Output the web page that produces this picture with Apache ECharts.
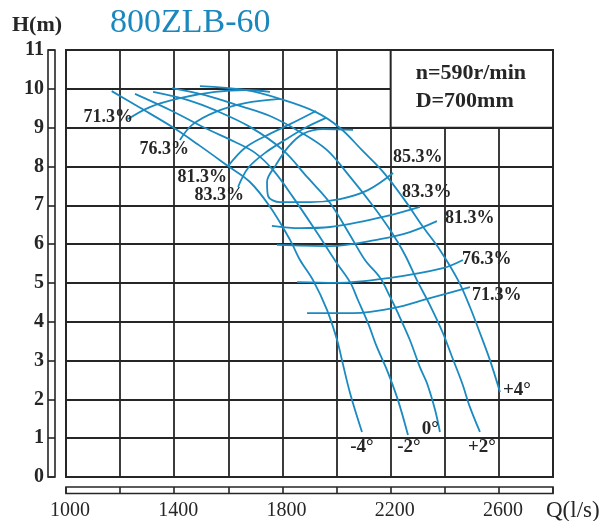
<!DOCTYPE html>
<html>
<head>
<meta charset="utf-8">
<script src="https://cdn.jsdelivr.net/npm/echarts@6/dist/echarts.min.js"></script>
<style>
  html, body { margin: 0; padding: 0; background: #fff; }
  #chart { width: 600px; height: 521px; }
</style>
</head>
<body>
<div id="chart"></div>
<script>
// Axis ticks
const qLabels = [1000, 1400, 1800, 2200, 2600];   // labelled flow ticks (l/s)
const hTicks = [0, 1, 2, 3, 4, 5, 6, 7, 8, 9, 10, 11];

// Blade-angle H-Q curves, points as [Q (l/s), H (m)]
const angleM4 = [[1169, 9.94], [1274, 9.51], [1392, 9.02], [1495, 8.53], [1599, 8.01], [1680, 7.60],
  [1754, 6.96], [1828, 6.11], [1865, 5.59], [1913, 5.07], [1965, 4.30], [2002, 3.53], [2020, 3.01],
  [2050, 2.16], [2094, 1.16]];
const angleM2 = [[1255, 9.87], [1392, 9.43], [1514, 8.99], [1625, 8.63], [1699, 8.35], [1765, 7.91],
  [1839, 7.21], [1928, 6.29], [1998, 5.54], [2050, 5.02], [2079, 4.56], [2116, 3.97], [2149, 3.35],
  [2186, 2.76], [2227, 1.98], [2264, 1.08]];
const angle0 = [[1322, 9.92], [1451, 9.71], [1551, 9.45], [1680, 9.02], [1802, 8.42], [1891, 7.73],
  [1976, 7.06], [2050, 6.23], [2105, 5.59], [2161, 5.13], [2198, 4.64], [2227, 4.22], [2271, 3.53],
  [2308, 2.83], [2334, 2.42], [2364, 1.73], [2382, 1.16]];
const angleP2 = [[1392, 10.02], [1514, 9.84], [1643, 9.56], [1754, 9.30], [1865, 8.89], [1965, 8.42],
  [2050, 7.73], [2135, 6.98], [2198, 6.36], [2253, 5.72], [2297, 5.07], [2345, 4.43], [2393, 3.71],
  [2427, 3.09], [2464, 2.42], [2493, 1.80], [2530, 1.16]];
const angleP4 = [[1495, 10.07], [1662, 9.97], [1791, 9.74], [1924, 9.40], [2013, 8.99], [2094, 8.42],
  [2172, 7.86], [2246, 7.19], [2320, 6.44], [2382, 5.85], [2449, 5.07], [2493, 4.38], [2530, 3.71],
  [2567, 3.01], [2604, 2.19]];

// Efficiency contours: upper (small-flow) and lower (large-flow) branches
const eff713Upper = [[1229, 9.22], [1310, 9.53], [1421, 9.76], [1551, 9.92], [1662, 9.97], [1754, 9.92]];
const eff763Upper = [[1421, 8.68], [1466, 9.07], [1551, 9.40], [1662, 9.63], [1791, 9.74]];
const eff813Upper = [[1599, 8.01], [1662, 8.48], [1736, 8.78], [1828, 9.09], [1924, 9.43]];
const eff833Upper = [[1636, 7.47], [1673, 7.96], [1736, 8.35], [1809, 8.68], [1883, 8.99], [1961, 9.25]];
const eff853Loop = [[2061, 8.94], [1950, 8.96], [1876, 8.84], [1821, 8.50], [1776, 8.04], [1743, 7.60],
  [1747, 7.24], [1791, 7.08], [1902, 7.08], [2013, 7.16], [2116, 7.39], [2209, 7.83]];
const eff833Lower = [[1761, 6.47], [1865, 6.41], [1976, 6.44], [2172, 6.70], [2308, 6.96]];
const eff813Lower = [[1780, 5.98], [1976, 5.95], [2161, 6.13], [2271, 6.31], [2371, 6.59]];
const eff763Lower = [[1854, 5.02], [2002, 5.00], [2198, 5.13], [2393, 5.38], [2467, 5.59]];
const eff713Lower = [[1891, 4.22], [2061, 4.22], [2209, 4.35], [2345, 4.61], [2493, 4.89]];

const BLUE = '#1b8ac0';
const INK = '#262626';
const SERIF = '"Liberation Serif", "Times New Roman", serif';

function curve(pts, labelAt, text, labelOpts) {
  const idx = labelAt < 0 ? pts.length + labelAt : labelAt;
  const data = pts.map((p, i) => i === idx
    ? { value: p, label: Object.assign({ show: true, formatter: text }, labelOpts) }
    : p);
  return {
    type: 'line', xAxisIndex: 0, yAxisIndex: 0, data,
    smooth: 0.35, symbol: 'circle', symbolSize: 0, showSymbol: true,
    lineStyle: { color: BLUE, width: 1.8 }, itemStyle: { color: BLUE },
    label: { show: false, color: INK, fontFamily: SERIF, fontWeight: 'bold', fontSize: 18 },
    emphasis: { disabled: true }, silent: true, z: 3
  };
}

const angleLbl = { fontSize: 19 };
const series = [
  curve(angleM4, -1, '-4°', Object.assign({ position: 'bottom', distance: 6 }, angleLbl)),
  curve(angleM2, -1, '-2°', Object.assign({ position: 'bottom', distance: 3, offset: [1, 0] }, angleLbl)),
  curve(angle0, -1, '0°', Object.assign({ position: 'left', distance: 1, offset: [0, -3] }, angleLbl)),
  curve(angleP2, -1, '+2°', Object.assign({ position: 'bottom', distance: 6, offset: [2, 0] }, angleLbl)),
  curve(angleP4, -1, '+4°', Object.assign({ position: 'right', distance: 3, offset: [0, -2] }, angleLbl)),
  curve(eff713Upper, 0, '71.3%', { position: 'left', distance: 0, offset: [5, -2] }),
  curve(eff763Upper, 0, '76.3%', { position: 'left', distance: 0, offset: [9, 9] }),
  curve(eff813Upper, 0, '81.3%', { position: 'left', distance: 0, offset: [-1, 11] }),
  curve(eff833Upper, 0, '83.3%', { position: 'left', distance: 0, offset: [6, 8] }),
  curve(eff853Loop, -1, '85.3%', { position: 'right', distance: 0, offset: [0, -16] }),
  curve(eff833Lower, -1, '83.3%', { position: 'right', distance: 0, offset: [-18, -14] }),
  curve(eff813Lower, -1, '81.3%', { position: 'right', distance: 0, offset: [8, -3] }),
  curve(eff763Lower, -1, '76.3%', { position: 'right', distance: 0, offset: [-1, -1] }),
  curve(eff713Lower, -1, '71.3%', { position: 'right', distance: 0, offset: [2, 8] })
];

// Speed / impeller note in the upper-right cell block
series[0].markArea = {
  silent: true,
  itemStyle: { color: '#fff', borderColor: INK, borderWidth: 2 },
  label: {
    show: true, position: [26, 10], align: 'left', verticalAlign: 'top',
    color: INK, fontFamily: SERIF, fontWeight: 'bold', fontSize: 22, lineHeight: 28
  },
  emphasis: { disabled: true },
  data: [[{ name: 'n=590r/min\nD=700mm', coord: [2200, 9] }, { coord: [2800, 11] }]]
};

const gridLine = { show: true, lineStyle: { color: INK, width: 1.8 } };

const option = {
  animation: false,
  backgroundColor: '#fff',
  title: [
    { text: '800ZLB-60', left: 105, top: 1,
      textStyle: { color: '#1a87bd', fontFamily: SERIF, fontWeight: 'normal', fontSize: 34 } },
    { text: 'H(m)', left: 7, top: 9,
      textStyle: { color: INK, fontFamily: SERIF, fontWeight: 'bold', fontSize: 22 } },
    { text: 'Q(l/s)', left: 541, top: 494,
      textStyle: { color: INK, fontFamily: SERIF, fontWeight: 'normal', fontSize: 23 } }
  ],
  grid: [
    { left: 66, right: 47, top: 50, bottom: 44, show: true, borderColor: INK, borderWidth: 2 },
    { left: 48, width: 7, top: 50, bottom: 44, show: true, borderColor: INK, borderWidth: 1.6 },
    { left: 66, right: 47, top: 487, height: 6.5, show: true, borderColor: INK, borderWidth: 1.6 }
  ],
  xAxis: [
    { gridIndex: 0, type: 'value', min: 1000, max: 2800, interval: 200,
      axisLine: { show: false }, axisTick: { show: false }, axisLabel: { show: false }, splitLine: gridLine },
    { gridIndex: 1, type: 'value', min: 0, max: 1, show: false },
    { gridIndex: 2, type: 'value', min: 1000, max: 2800, interval: 200, position: 'bottom',
      axisLine: { show: false }, axisTick: { show: false },
      splitLine: { show: true, lineStyle: { color: INK, width: 1.6 } },
      axisLabel: {
        margin: 7, color: INK, fontFamily: SERIF, fontSize: 20, padding: [0, 0, 0, 8],
        formatter: v => (qLabels.includes(v) ? String(v) : '')
      } }
  ],
  yAxis: [
    { gridIndex: 0, type: 'value', min: 0, max: 11, interval: 1,
      axisLine: { show: false }, axisTick: { show: false }, axisLabel: { show: false }, splitLine: gridLine },
    { gridIndex: 1, type: 'value', min: 0, max: 11, interval: 1, position: 'left',
      axisLine: { show: false }, axisTick: { show: false },
      splitLine: { show: true, lineStyle: { color: INK, width: 1.6 } },
      axisLabel: {
        margin: 4, color: INK, fontFamily: SERIF, fontWeight: 'bold', fontSize: 20,
        formatter: v => (hTicks.includes(v) ? String(v) : '')
      } },
    { gridIndex: 2, type: 'value', min: 0, max: 1, show: false }
  ],
  series
};

const chart = echarts.init(document.getElementById('chart'), null, { renderer: 'canvas' });
chart.setOption(option);
</script>
</body>
</html>
